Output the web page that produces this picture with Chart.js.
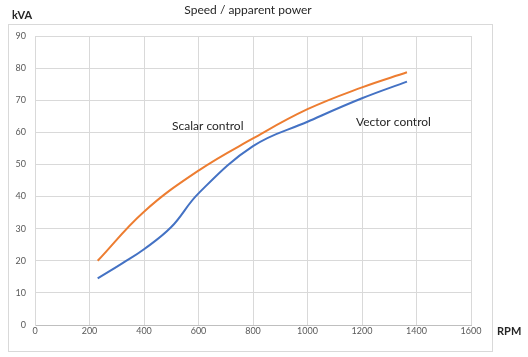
<!DOCTYPE html>
<html><head><meta charset="utf-8">
<script src="https://cdn.jsdelivr.net/npm/chart.js@4/dist/chart.umd.min.js"></script>
<style>html,body{margin:0;padding:0;background:#fff;}#wrap{position:relative;width:528px;height:357px;}</style>
</head><body><div id="wrap"><canvas id="c" width="528" height="357"></canvas></div>
<script>
const title = "Speed / apparent power";
const yAxisLabel = "kVA";
const xAxisLabel = "RPM";
const scalarRpm = [230, 400, 600, 800, 1000, 1200, 1365];
const scalarKva = [20, 35.3, 48.1, 58.1, 67.2, 74, 78.7];
const vectorRpm = [230, 320, 400, 500, 600, 800, 1000, 1200, 1365];
const vectorKva = [14.5, 19.2, 23.6, 30.5, 41, 55.7, 63.3, 70.6, 75.8];
const scalarName = "Scalar control";
const vectorName = "Vector control";

const FONT = "Lato, 'Open Sans', sans-serif";
const deco = {
  id: 'deco',
  beforeDraw(chart) {
    const ctx = chart.ctx;
    ctx.save();
    ctx.strokeStyle = '#d9d9d9'; ctx.lineWidth = 1;
    ctx.strokeRect(8.5, 24.5, 484, 327);
    ctx.restore();
  },
  afterDraw(chart) {
    const ctx = chart.ctx;
    ctx.save();
    ctx.fillStyle = '#262626';
    ctx.textBaseline = 'middle';
    ctx.font = "12px " + FONT;
    ctx.textAlign = 'center';
    ctx.fillText(title, 248, 10);
    ctx.textAlign = 'left';
    ctx.font = "bold 11px " + FONT;
    ctx.fillText(yAxisLabel, 12, 15);
    ctx.fillText(xAxisLabel, 497, 331);
    ctx.font = "12px " + FONT;
    ctx.fillText(scalarName, 172, 126);
    ctx.fillText(vectorName, 356, 122);
    ctx.restore();
  }
};

new Chart(document.getElementById('c'), {
  type: 'scatter',
  data: { datasets: [
    { label: scalarName, data: scalarRpm.map((x,i)=>({x, y: scalarKva[i]})), showLine: true,
      borderColor: '#ED7D31', borderWidth: 2, pointRadius: 0, tension: 0.4, fill: false },
    { label: vectorName, data: vectorRpm.map((x,i)=>({x, y: vectorKva[i]})), showLine: true,
      borderColor: '#4472C4', borderWidth: 2, pointRadius: 0, tension: 0.4, fill: false }
  ]},
  options: {
    responsive: false, animation: false,
    layout: { padding: { left: 0, top: 36, right: 57, bottom: 0 } },
    plugins: { legend: { display: false }, tooltip: { enabled: false }, title: { display: false } },
    scales: {
      x: { type: 'linear', min: 0, max: 1600,
        ticks: { stepSize: 200, padding: 1, color: '#595959', font: { family: FONT, size: 9 },
          callback: v => String(v) },
        grid: { color: '#d9d9d9', drawTicks: false }, border: { color: '#bfbfbf' },
        afterFit(s) { s.height = 32; } },
      y: { min: 0, max: 90,
        ticks: { stepSize: 10, padding: 9, color: '#595959', font: { family: FONT, size: 9 },
          callback: v => String(v) },
        grid: { color: '#d9d9d9', drawTicks: false }, border: { color: '#d9d9d9' },
        afterFit(s) { s.width = 35; } }
    }
  },
  plugins: [deco]
});
</script></body></html>
